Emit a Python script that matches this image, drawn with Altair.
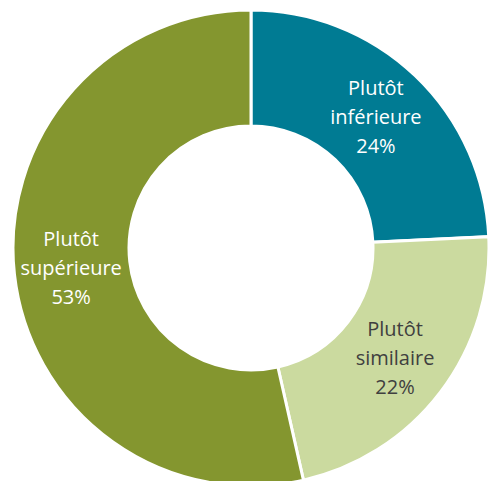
import altair as alt
import pandas as pd

categories = ["Plutôt inférieure", "Plutôt similaire", "Plutôt supérieure"]
labels = ["Plutôt\ninférieure\n24%", "Plutôt\nsimilaire\n22%", "Plutôt\nsupérieure\n53%"]
values = [24, 22, 53]
order = [1, 2, 3]
colors = ["#007B93", "#CBDA9F", "#84962F"]
text_colors = ["#FFFFFF", "#404040", "#FFFFFF"]

df = pd.DataFrame({"cat": categories, "label": labels, "value": values,
                   "order": order, "tcolor": text_colors})

base = alt.Chart(df).encode(
    theta=alt.Theta("value:Q", stack=True),
    order=alt.Order("order:Q"),
    x=alt.value(251),
    y=alt.value(248),
)

arcs = base.mark_arc(innerRadius=122, outerRadius=238, stroke="white", strokeWidth=3).encode(
    color=alt.Color("cat:N", scale=alt.Scale(domain=categories, range=colors), legend=None)
)

text = base.mark_text(radius=181, font="Open Sans", fontSize=20, lineBreak="\n",
                      lineHeight=29, align="center", baseline="middle", dy=-28).encode(
    text="label:N",
    color=alt.Color("tcolor:N", scale=None),
)

chart = (arcs + text).properties(
    width=490, height=481, padding=0,
    autosize=alt.AutoSizeParams(type="none"),
).configure_view(stroke=None)

chart.save("out.html", embed_options={"renderer": "svg", "actions": False})
